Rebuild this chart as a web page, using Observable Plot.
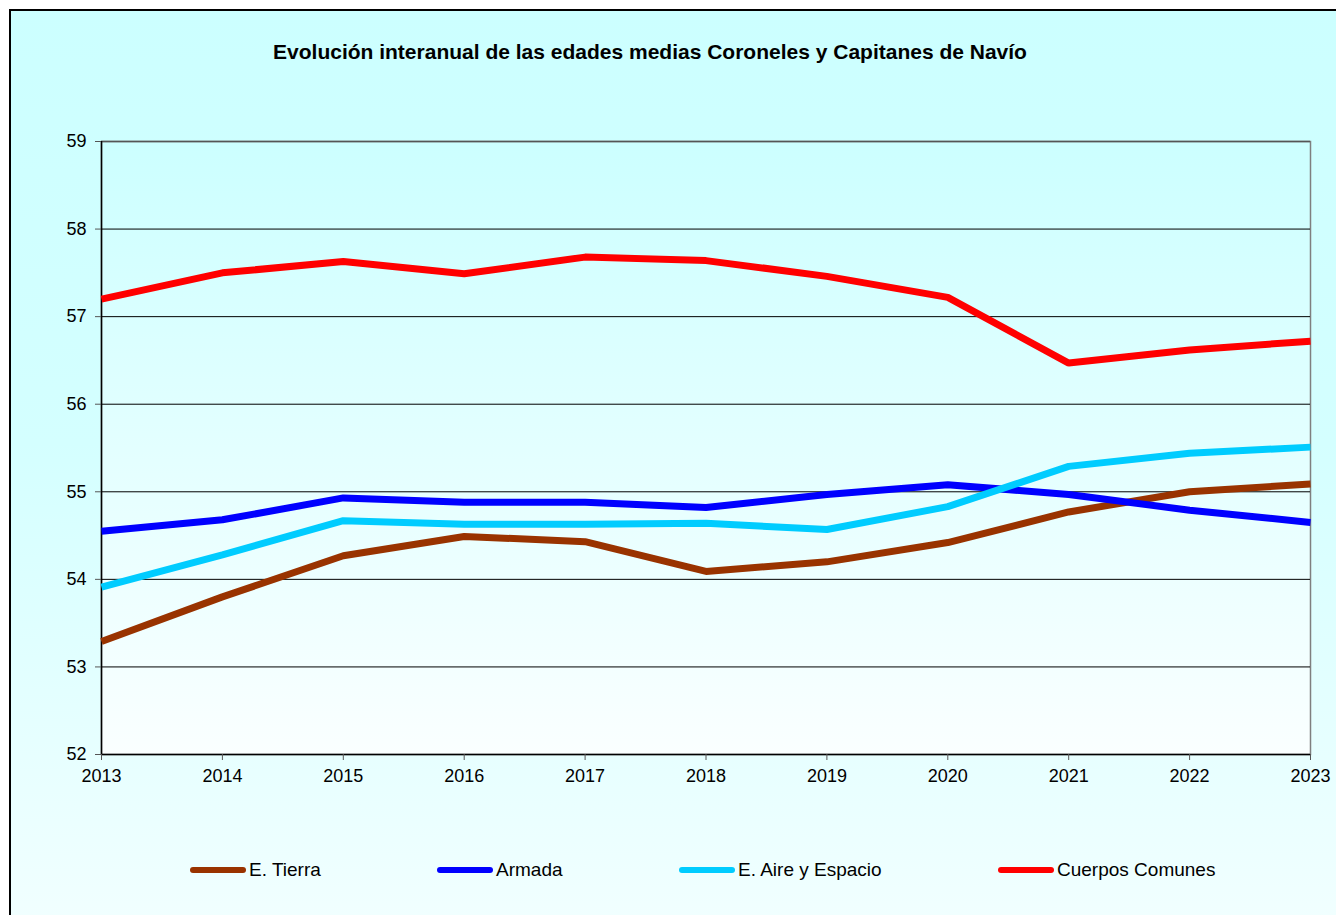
<!DOCTYPE html>
<html><head><meta charset="utf-8">
<script src="https://cdn.jsdelivr.net/npm/d3@7"></script>
<script src="https://cdn.jsdelivr.net/npm/@observablehq/plot@0.6"></script>
<style>
html,body{margin:0;padding:0;background:#fff;width:1336px;height:915px;overflow:hidden;font-family:"Liberation Sans",Arial,sans-serif;}
#wrap{position:absolute;left:0;top:0;width:1336px;height:915px;overflow:hidden;}
#frame{position:absolute;left:9px;top:9px;width:1400px;height:960px;border-left:2px solid #000;border-top:2px solid #000;background:linear-gradient(#CCFFFF 0%,#D4FFFF 45%,#F4FFFF 100%);}
#chart{position:absolute;left:0;top:0;}
#title{position:absolute;left:0;width:1300px;top:40px;text-align:center;font-weight:bold;font-size:21px;line-height:24px;color:#000;}
.leg{position:absolute;top:859px;height:22px;line-height:22px;font-size:19px;color:#000;white-space:nowrap;display:flex;align-items:center;}
.leg svg{display:block;margin-right:3px;}
</style></head>
<body>
<div id="wrap">
<div id="frame"></div>
<div id="chart"></div>
<div id="title"></div>
<div id="legend"></div>
</div>
<script>
const titleText = "Evolución interanual de las edades medias Coroneles y Capitanes de Navío";
const years = [2013, 2014, 2015, 2016, 2017, 2018, 2019, 2020, 2021, 2022, 2023];
const yTicks = [52, 53, 54, 55, 56, 57, 58, 59];
const seriesNames = ["E. Tierra", "Armada", "E. Aire y Espacio", "Cuerpos Comunes"];
const seriesColors = ["#993300", "#0000FF", "#00CCFF", "#FF0000"];
const tierra  = [53.29, 53.80, 54.27, 54.49, 54.43, 54.09, 54.20, 54.42, 54.77, 55.00, 55.09];
const armada  = [54.55, 54.68, 54.93, 54.88, 54.88, 54.82, 54.97, 55.08, 54.97, 54.79, 54.65];
const aire    = [53.91, 54.28, 54.67, 54.63, 54.63, 54.64, 54.57, 54.83, 55.29, 55.44, 55.51];
const comunes = [57.20, 57.50, 57.63, 57.49, 57.68, 57.64, 57.46, 57.22, 56.47, 56.62, 56.72];

const seriesValues = [tierra, armada, aire, comunes];
const rows = [];
seriesNames.forEach((name, i) => {
  years.forEach((yr, j) => rows.push({series: name, year: yr, value: seriesValues[i][j]}));
});

const chart = Plot.plot({
  width: 1336,
  height: 800,
  marginLeft: 101,
  marginRight: 26,
  marginTop: 141,
  marginBottom: 46,
  style: {background: "transparent", fontFamily: "'Liberation Sans', Arial, sans-serif", fontSize: "18px", color: "#000"},
  x: {type: "linear", domain: [2013, 2023], ticks: years, tickFormat: d => String(d)},
  y: {domain: [52, 59], ticks: yTicks},
  color: {domain: seriesNames, range: seriesColors},
  marks: [
    Plot.frame({fill: "url(#plotGrad)", stroke: "#7f7f7f", strokeWidth: 1.5}),
    Plot.ruleY(yTicks.filter(v => v > 52 && v < 59), {stroke: "#000", strokeWidth: 1}),
    Plot.ruleY([59], {stroke: "#555", strokeWidth: 1.5}),
    Plot.ruleY([52], {stroke: "#000", strokeWidth: 1.5}),
    Plot.ruleX([2013], {stroke: "#000", strokeWidth: 1.5}),
    Plot.axisY({ticks: yTicks, tickSize: 6, tickPadding: 9, label: null, tickFormat: d => String(d), stroke: "#555"}),
    Plot.axisX({ticks: years, tickSize: 6, tickPadding: 9, label: null, tickFormat: d => String(d), stroke: "#555"}),
    Plot.line(rows, {x: "year", y: "value", z: "series", stroke: "series", strokeWidth: 7, strokeLinejoin: "miter", strokeLinecap: "butt"})
  ]
});

// gradient definition for plot area background
const ns = "http://www.w3.org/2000/svg";
const defs = document.createElementNS(ns, "defs");
defs.innerHTML = '<linearGradient id="plotGrad" x1="0" y1="0" x2="0" y2="1"><stop offset="0" stop-color="#CCFFFF"/><stop offset="1" stop-color="#FAFFFF"/></linearGradient>';
chart.insertBefore(defs, chart.firstChild);
document.getElementById("chart").appendChild(chart);

document.getElementById("title").textContent = titleText;

const legendLeft = [190, 437, 679, 998];
const legend = document.getElementById("legend");
seriesNames.forEach((name, i) => {
  const d = document.createElement("div");
  d.className = "leg";
  d.style.left = legendLeft[i] + "px";
  d.innerHTML = `<svg width="56" height="10"><line x1="3" y1="5" x2="53" y2="5" stroke="${seriesColors[i]}" stroke-width="6" stroke-linecap="round"/></svg><span></span>`;
  d.querySelector("span").textContent = name;
  legend.appendChild(d);
});
</script>
</body></html>
